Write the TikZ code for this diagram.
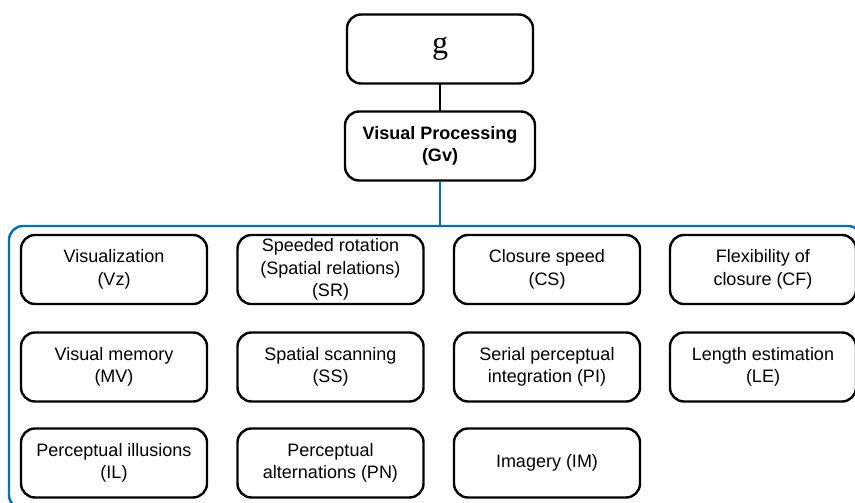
\documentclass[tikz,border=0pt]{standalone}
\usepackage{fontspec}
\setmainfont{Liberation Sans}
\newfontfamily\gfont{Liberation Serif}
\definecolor{frameblue}{RGB}{0,114,188}
\begin{document}
\begin{tikzpicture}[x=1pt, y=-1pt, line join=round, line cap=round]
 \tikzset{box/.style={draw, line width=2.4pt, rounded corners=14pt, minimum width=186pt, minimum height=69pt, align=center, inner sep=2pt, font=\fontsize{18}{22.5}\selectfont}}
 \clip (0,0) rectangle (855,503);
 % top of the tree
 \node[box, font=\gfont\fontsize{32}{36}\selectfont] (g) at (440,49) {g};
 \node[box, minimum width=190pt, font=\bfseries\fontsize{18}{22.5}\selectfont] (gv) at (440,146) {Visual Processing\\(Gv)};
 \draw[line width=2.6pt] (g) -- (gv);
 \coordinate (frametop) at (440,226);
 \draw[frameblue, line width=2.6pt] (gv) -- (frametop);
 \draw[frameblue, line width=2.4pt, rounded corners=14pt] (9,226) rectangle (862,509);
 % narrow abilities
 \node[box] (vz) at (114,269.5) {Visualization\\(Vz)};
 \node[box] (sr) at (330.5,269.5) {Speeded rotation\\(Spatial relations)\\(SR)};
 \node[box] (cs) at (547,269.5) {Closure speed\\(CS)};
 \node[box] (cf) at (763,269.5) {Flexibility of\\closure (CF)};
 \node[box] (mv) at (114,367) {Visual memory\\(MV)};
 \node[box] (ss) at (330.5,367) {Spatial scanning\\(SS)};
 \node[box] (pi) at (547,367) {Serial perceptual\\integration (PI)};
 \node[box] (le) at (763,367) {Length estimation\\(LE)};
 \node[box] (il) at (114,463) {Perceptual illusions\\(IL)};
 \node[box] (pn) at (330.5,463) {Perceptual\\alternations (PN)};
 \node[box] (im) at (547,463) {Imagery (IM)};
\end{tikzpicture}
\end{document}
